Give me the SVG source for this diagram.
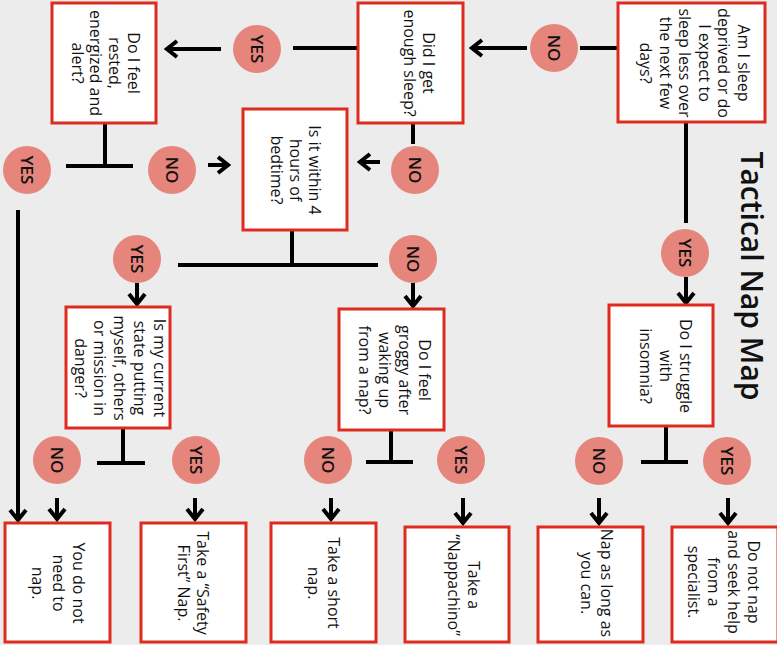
<svg xmlns="http://www.w3.org/2000/svg" width="777" height="645" viewBox="0 0 777 645">
<defs>
<style>
.bg{fill:#ececec}
.box{fill:#fff;stroke:#df2b1f;stroke-width:3}
.c{fill:#e6857c}
.t{font-family:"Open Sans","Liberation Sans",sans-serif;font-size:16px;font-weight:500;fill:#111;text-anchor:middle}
.cl{font-family:"Open Sans","Liberation Sans",sans-serif;font-size:17px;font-weight:600;fill:#111;text-anchor:middle}
.title{font-family:"Open Sans","Liberation Sans",sans-serif;font-size:30px;font-weight:600;fill:#111;text-anchor:middle}
.ln{fill:none;stroke:#000;stroke-width:4}
.ar{fill:none;stroke:#000;stroke-width:4;marker-end:url(#ah)}
</style>
<marker id="ah" markerUnits="userSpaceOnUse" markerWidth="16" markerHeight="22" viewBox="-13 -11 16 22" refX="0" refY="0" orient="auto">
<path d="M-10,-8 L0,0 L-10,8" fill="none" stroke="#000" stroke-width="4"/>
</marker>
</defs>
<rect class="bg" x="0" y="0" width="777" height="645"/>

<text class="title" transform="rotate(90)" x="276" y="-741">Tactical Nap Map</text>

<g id="connectors">
<path class="ln" d="M618,48 H580"/>
<path class="ar" d="M527,48 H472"/>
<path class="ln" d="M358,48 H293"/>
<path class="ar" d="M221,49 H167"/>
<path class="ln" d="M105,123 V166 M66,166 H133"/>
<path class="ar" d="M208,165 H228"/>
<path class="ln" d="M413,123 V144"/>
<path class="ar" d="M380,162 H360"/>
<path class="ar" d="M18,210 V520"/>
<path class="ln" d="M292,230 V265 M178,265 H378"/>
<path class="ar" d="M137,283 V304"/>
<path class="ar" d="M413,283 V306"/>
<path class="ln" d="M686,123 V223"/>
<path class="ar" d="M686,277 V303"/>
<path class="ln" d="M123,428 V463 M97,463 H145"/>
<path class="ln" d="M391,430 V462 M366,462 H413"/>
<path class="ln" d="M666,426 V462 M641,462 H688"/>
<path class="ar" d="M57,498 V519"/>
<path class="ar" d="M195,498 V519"/>
<path class="ar" d="M331,498 V519"/>
<path class="ar" d="M463,498 V523"/>
<path class="ar" d="M599,498 V523"/>
<path class="ar" d="M728,498 V523"/>
</g>

<g id="q1">
<rect class="box" x="618" y="3" width="147" height="119"/>
<text class="t" transform="rotate(90)"><tspan x="63" y="-738">Am I sleep</tspan><tspan x="63" y="-718">deprived or do</tspan><tspan x="63" y="-699">I expect to</tspan><tspan x="63" y="-679">sleep less over</tspan><tspan x="63" y="-660">the next few</tspan><tspan x="63" y="-640">days?</tspan></text>
</g>
<g id="q2">
<rect class="box" x="358" y="3" width="105" height="120"/>
<text class="t" transform="rotate(90)"><tspan x="63" y="-423">Did I get</tspan><tspan x="63" y="-404">enough sleep?</tspan></text>
</g>
<g id="q3">
<rect class="box" x="52" y="3" width="104" height="120"/>
<text class="t" transform="rotate(90)"><tspan x="63" y="-128">Do I feel</tspan><tspan x="63" y="-109">rested,</tspan><tspan x="63" y="-90">energized and</tspan><tspan x="63" y="-72">alert?</tspan></text>
</g>
<g id="q4">
<rect class="box" x="243" y="109" width="104" height="121"/>
<text class="t" transform="rotate(90)"><tspan x="170" y="-309">Is it within 4</tspan><tspan x="170" y="-290">hours of</tspan><tspan x="170" y="-271">bedtime?</tspan></text>
</g>
<g id="q5">
<rect class="box" x="609" y="305" width="104" height="121"/>
<text class="t" transform="rotate(90)"><tspan x="366" y="-680">Do I struggle</tspan><tspan x="366" y="-660">with</tspan><tspan x="366" y="-640">insomnia?</tspan></text>
</g>
<g id="q6">
<rect class="box" x="339" y="309" width="105" height="121"/>
<text class="t" transform="rotate(90)"><tspan x="370" y="-419">Do I feel</tspan><tspan x="370" y="-399">groggy after</tspan><tspan x="370" y="-379">waking up</tspan><tspan x="370" y="-359">from a nap?</tspan></text>
</g>
<g id="q7">
<rect class="box" x="66" y="307" width="104" height="121"/>
<text class="t" transform="rotate(90)"><tspan x="368" y="-154">Is my current</tspan><tspan x="368" y="-134">state putting</tspan><tspan x="368" y="-114">myself, others</tspan><tspan x="368" y="-94">or mission in</tspan><tspan x="368" y="-75">danger?</tspan></text>
</g>
<g id="r1">
<rect class="box" x="5" y="523" width="105" height="119"/>
<text class="t" transform="rotate(90)"><tspan x="583" y="-73">You do not</tspan><tspan x="583" y="-53">need to</tspan><tspan x="583" y="-32">nap.</tspan></text>
</g>
<g id="r2">
<rect class="box" x="141" y="523" width="105" height="119"/>
<text class="t" transform="rotate(90)"><tspan x="583" y="-197">Take a “Safety</tspan><tspan x="583" y="-178">First” Nap.</tspan></text>
</g>
<g id="r3">
<rect class="box" x="271" y="523" width="105" height="119"/>
<text class="t" transform="rotate(90)"><tspan x="583" y="-328">Take a short</tspan><tspan x="583" y="-308">nap.</tspan></text>
</g>
<g id="r4">
<rect class="box" x="405" y="527" width="104" height="115"/>
<text class="t" transform="rotate(90)"><tspan x="585" y="-468">Take a</tspan><tspan x="585" y="-448">“Nappachino”</tspan></text>
</g>
<g id="r5">
<rect class="box" x="538" y="527" width="105" height="115"/>
<text class="t" transform="rotate(90)"><tspan x="583" y="-601">Nap as long as</tspan><tspan x="583" y="-581">you can.</tspan></text>
</g>
<g id="r6">
<rect class="box" x="672" y="527" width="106" height="115"/>
<text class="t" transform="rotate(90)"><tspan x="582" y="-748">Do not nap</tspan><tspan x="582" y="-728">and seek help</tspan><tspan x="582" y="-708">from a</tspan><tspan x="582" y="-688">specialist.</tspan></text>
</g>

<g id="c1"><circle class="c" cx="554" cy="48" r="24"/><text class="cl" transform="rotate(90)" x="48" y="-548">NO</text></g>
<g id="c2"><circle class="c" cx="257" cy="49" r="24"/><text class="cl" transform="rotate(90)" x="49" y="-251">YES</text></g>
<g id="c3"><circle class="c" cx="27" cy="170" r="24"/><text class="cl" transform="rotate(90)" x="170" y="-21">YES</text></g>
<g id="c4"><circle class="c" cx="172" cy="170" r="24"/><text class="cl" transform="rotate(90)" x="170" y="-166">NO</text></g>
<g id="c5"><circle class="c" cx="415" cy="170" r="24"/><text class="cl" transform="rotate(90)" x="170" y="-409">NO</text></g>
<g id="c6"><circle class="c" cx="137" cy="259" r="24"/><text class="cl" transform="rotate(90)" x="259" y="-131">YES</text></g>
<g id="c7"><circle class="c" cx="413" cy="259" r="24"/><text class="cl" transform="rotate(90)" x="259" y="-407">NO</text></g>
<g id="c8"><circle class="c" cx="685" cy="253" r="24"/><text class="cl" transform="rotate(90)" x="253" y="-679">YES</text></g>
<g id="c9"><circle class="c" cx="57" cy="460" r="24"/><text class="cl" transform="rotate(90)" x="460" y="-51">NO</text></g>
<g id="c10"><circle class="c" cx="196" cy="460" r="24"/><text class="cl" transform="rotate(90)" x="460" y="-190">YES</text></g>
<g id="c11"><circle class="c" cx="328" cy="460" r="24"/><text class="cl" transform="rotate(90)" x="460" y="-322">NO</text></g>
<g id="c12"><circle class="c" cx="461" cy="460" r="24"/><text class="cl" transform="rotate(90)" x="460" y="-455">YES</text></g>
<g id="c13"><circle class="c" cx="599" cy="461" r="24"/><text class="cl" transform="rotate(90)" x="461" y="-593">NO</text></g>
<g id="c14"><circle class="c" cx="727" cy="461" r="24"/><text class="cl" transform="rotate(90)" x="461" y="-721">YES</text></g>
</svg>
